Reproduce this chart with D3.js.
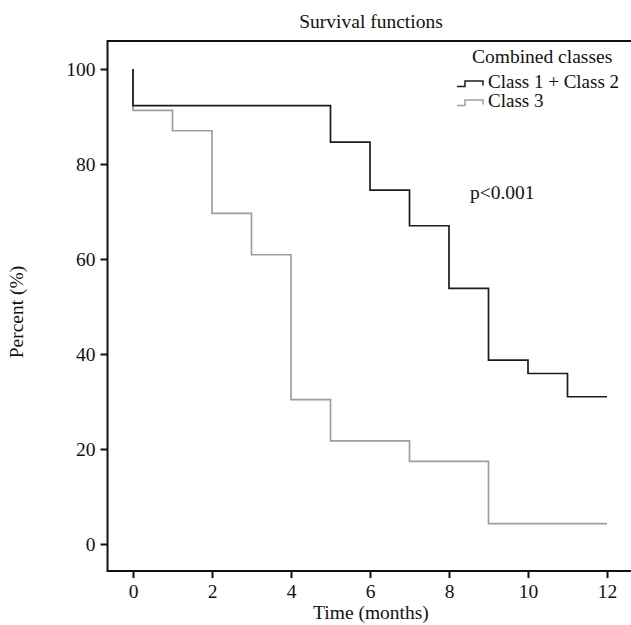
<!DOCTYPE html>
<html>
<head>
<meta charset="utf-8">
<script src="https://cdn.jsdelivr.net/npm/d3@7"></script>
<style>
  body { margin: 0; background: #fff; }
  svg text { font-family: 'Liberation Serif', 'Times New Roman', serif; fill: #111; }
</style>
</head>
<body>
<svg id="chart" width="631" height="625"></svg>
<script>
// Kaplan-Meier steps (time in months, percent surviving)
var class12Times = [0, 5, 6, 7, 8, 9, 10, 11]
var class12Surv = [92.3, 84.6, 74.5, 67.0, 53.8, 38.7, 35.9, 31.0]
var class3Times = [0, 1, 2, 3, 4, 5, 7, 9]
var class3Surv = [91.3, 87.0, 69.6, 60.9, 30.4, 21.7, 17.4, 4.3]
var followUpEnd = 12

var xTicks = [0, 2, 4, 6, 8, 10, 12]
var yTicks = [0, 20, 40, 60, 80, 100]
var legendLabels = ['Class 1 + Class 2', 'Class 3']
var legendColors = ['#1c1c1c', '#9e9e9e']

var svg = d3.select('#chart')

// scales
var xPositionScale = d3.scaleLinear().domain([0, 12]).range([133, 607])
var yPositionScale = d3.scaleLinear().domain([0, 100]).range([544, 69])

// frame edges in data units
var xLeft = -0.645
var xRight = 12.7
var yBottom = -5.7
var yTop = 105.9

function steps(times, surv) {
  var pts = [[0, 100]]
  times.forEach(function(t, i) {
    pts.push([t, surv[i]])
  })
  pts.push([followUpEnd, surv[surv.length - 1]])
  return pts
}

var line = d3
  .line()
  .x(d => xPositionScale(d[0]))
  .y(d => yPositionScale(d[1]))
  .curve(d3.curveStepAfter)

// survival curves, class 3 underneath
svg
  .append('path')
  .datum(steps(class3Times, class3Surv))
  .attr('d', line)
  .attr('fill', 'none')
  .attr('stroke', legendColors[1])
  .attr('stroke-width', 1.7)

svg
  .append('path')
  .datum(steps(class12Times, class12Surv))
  .attr('d', line)
  .attr('fill', 'none')
  .attr('stroke', legendColors[0])
  .attr('stroke-width', 1.7)

// frame: top, left and bottom lines
var x0 = xPositionScale(xLeft)
var x1 = xPositionScale(xRight)
var y0 = yPositionScale(yBottom)
var y1 = yPositionScale(yTop)
svg
  .append('path')
  .attr('d', 'M' + x1 + ',' + y1 + 'H' + x0 + 'V' + y0 + 'H' + x1)
  .attr('fill', 'none')
  .attr('stroke', '#111')
  .attr('stroke-width', 2)

// axes
var xAxis = d3
  .axisBottom(xPositionScale)
  .tickValues(xTicks)
  .tickSize(7)
  .tickPadding(6)
svg
  .append('g')
  .attr('class', 'axis x-axis')
  .attr('transform', 'translate(0,' + y0 + ')')
  .call(xAxis)

var yAxis = d3
  .axisLeft(yPositionScale)
  .tickValues(yTicks)
  .tickSize(7)
  .tickPadding(5)
svg
  .append('g')
  .attr('class', 'axis y-axis')
  .attr('transform', 'translate(' + x0 + ',0)')
  .call(yAxis)

svg.selectAll('.axis .domain').remove()
svg
  .selectAll('.axis line')
  .attr('stroke', '#111')
  .attr('stroke-width', 2)
svg
  .selectAll('.axis text')
  .attr('font-size', 19.5)
  .attr('font-family', "'Liberation Serif', 'Times New Roman', serif")
  .attr('fill', '#111')

// titles
svg
  .append('text')
  .text('Survival functions')
  .attr('x', 371)
  .attr('y', 28)
  .attr('text-anchor', 'middle')
  .attr('font-size', 19.5)

svg
  .append('text')
  .text('Time (months)')
  .attr('x', 371)
  .attr('y', 619)
  .attr('text-anchor', 'middle')
  .attr('font-size', 19.5)

svg
  .append('text')
  .text('Percent (%)')
  .attr('transform', 'translate(23,312) rotate(-90)')
  .attr('text-anchor', 'middle')
  .attr('font-size', 19.5)

svg
  .append('text')
  .text('p<0.001')
  .attr('x', 470)
  .attr('y', 199)
  .attr('font-size', 19.5)

// legend
svg
  .append('text')
  .text('Combined classes')
  .attr('x', 472)
  .attr('y', 63)
  .attr('font-size', 19.5)

legendLabels.forEach(function(label, i) {
  var yy = 86.5 + i * 19
  svg
    .append('path')
    .attr('d', 'M457,' + yy + 'H465V' + (yy - 5.5) + 'H483V' + (yy - 1))
    .attr('fill', 'none')
    .attr('stroke', legendColors[i])
    .attr('stroke-width', 1.5)
  svg
    .append('text')
    .text(label)
    .attr('x', 488)
    .attr('y', yy + 1)
    .attr('font-size', 19)
})
</script>
</body>
</html>
